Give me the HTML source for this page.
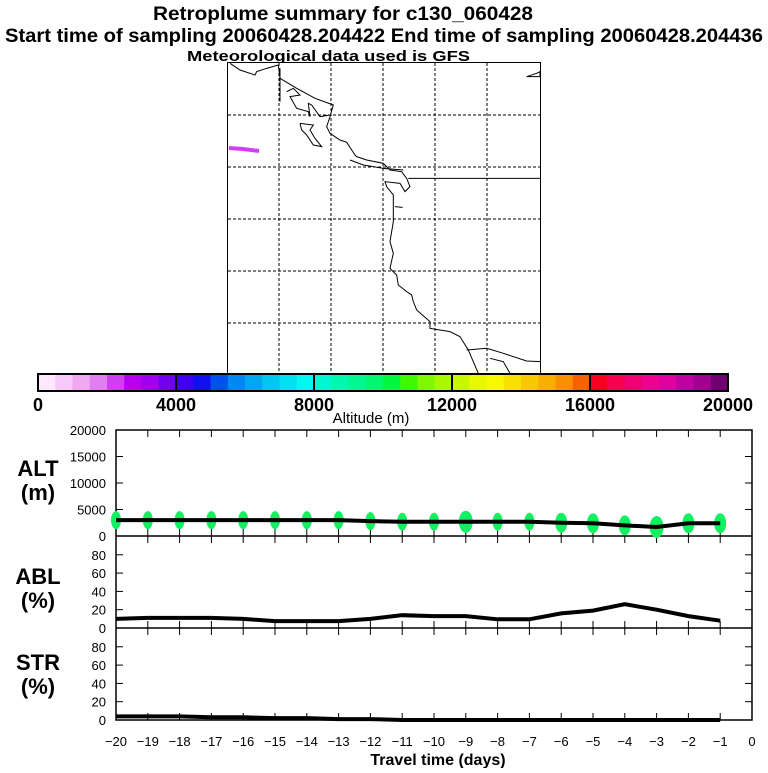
<!DOCTYPE html>
<html><head><meta charset="utf-8"><style>
body{margin:0;background:#fff;width:768px;height:768px;overflow:hidden}
svg text{font-family:"Liberation Sans",sans-serif}
</style></head><body>
<svg id="chart" width="768" height="768" xmlns="http://www.w3.org/2000/svg">
<g font-weight="bold" fill="#000">
<text x="153" y="20" font-size="19" textLength="380" lengthAdjust="spacingAndGlyphs">Retroplume summary for c130_060428</text>
<text x="5" y="42" font-size="19" textLength="758" lengthAdjust="spacingAndGlyphs">Start time of sampling 20060428.204422     End time of sampling 20060428.204436</text>
<text x="187" y="61" font-size="15" textLength="283" lengthAdjust="spacingAndGlyphs">Meteorological data used is GFS</text>
</g>
<g id="map">
<rect x="227.5" y="62.5" width="313" height="311" fill="#fff" stroke="#000"/>
<g stroke="#000" stroke-dasharray="3,2" stroke-width="1">
<line x1="279" y1="63" x2="279" y2="373"/><line x1="331" y1="63" x2="331" y2="373"/><line x1="383" y1="63" x2="383" y2="373"/><line x1="435" y1="63" x2="435" y2="373"/><line x1="487" y1="63" x2="487" y2="373"/>
<line x1="228" y1="115" x2="540" y2="115"/><line x1="228" y1="167" x2="540" y2="167"/><line x1="228" y1="219" x2="540" y2="219"/><line x1="228" y1="271" x2="540" y2="271"/><line x1="228" y1="323" x2="540" y2="323"/>
</g>
<g transform="translate(220,55) scale(0.3333)" fill="none" stroke="#000" stroke-width="3">
<polyline points="30,25 60,45 105,60 110,50 140,40 175,30 180,70 230,100 285,130 340,150 330,185 320,215 330,235 360,255 380,262 405,300 410,305 440,315 490,325 510,345 545,350 560,370 570,395 555,410 540,385 495,380 500,395 520,420 520,500 510,560 520,595 510,640 530,660 535,690 560,710 575,720 580,740 590,765 630,800 630,820 690,830 720,845 745,885 760,920 775,955"/>
<polyline points="180,40 180,140"/>
<polyline points="200,110 220,100 240,120 210,125 230,160 265,170 270,185 265,145 275,150 300,185 330,180"/>
<polyline points="240,205 280,210 270,225 285,250 305,275 280,270 260,240 245,225 240,205"/>
<polyline points="390,315 430,330 490,340 550,345"/>
<polyline points="565,370 960,370"/>
<polyline points="525,455 548,457"/>
<polyline points="740,885 800,880 850,895 920,918 960,920"/>
<polyline points="810,910 850,920 870,955"/>
<polyline points="920,65 950,55 960,50 960,65 920,65"/>
</g>
<polyline points="229,148 243,149 259,151" fill="none" stroke="#d040f0" stroke-width="4"/>
</g>
<g id="colorbar"></g>
<g id="plots"></g>
</svg>
<script>
const colors=["#fde8fd","#f8c8f8","#f0a8f0","#e080f0","#d040f0","#b800f0","#a000f0","#7000f0","#4000f0","#1010f0","#0050f0","#0088f0","#00a8f0","#00c8f0","#00e0f0","#00f8f0","#00f8d0","#00f8b0","#00f890","#00f870","#00f840","#40f800","#80f800","#a8f800","#c8f800","#e8f800","#f8f800","#f8e000","#f8c800","#f8b000","#f89000","#f86000","#f80020","#f80050","#f00070","#f00090","#e000a0","#c000a0","#a00090","#700070"];
const cbTicks=[0,4000,8000,12000,16000,20000];
const days=[-20,-19,-18,-17,-16,-15,-14,-13,-12,-11,-10,-9,-8,-7,-6,-5,-4,-3,-2,-1];
const altVals=[3000,3000,3000,3000,3000,3000,3000,3000,2800,2700,2700,2700,2700,2700,2500,2400,2000,1700,2400,2400];
const ablVals=[10,11,11,11,10,7.5,7.5,7.5,10,14,13,13,9.5,9.5,16,19,26,20,13,8];
const strVals=[4,4,4,3,3,2,2,1,1,0,0,0,0,0,0,0,0,0,0,0];
const blobSize=[5,5,5,5,5,5,5,5,5,5,5,7,5,5,6,6,6,7,6,6];
const xTicks=[-20,-19,-18,-17,-16,-15,-14,-13,-12,-11,-10,-9,-8,-7,-6,-5,-4,-3,-2,-1,0];
const altTicks=[0,5000,10000,15000,20000];
const pctTicks=[0,20,40,60,80];
const NS="http://www.w3.org/2000/svg";
function mk(t,a,p){const e=document.createElementNS(NS,t);for(const k in a)e.setAttribute(k,a[k]);(p||document.getElementById('plots')).appendChild(e);return e;}
const cb=document.getElementById('colorbar');
const cbx=v=>38+v/20000*690;
colors.forEach((c,i)=>{const r=mk('rect',{x:cbx(i*500),y:374,width:690/40+0.3,height:17,fill:c},cb);

});
mk('rect',{x:38,y:374,width:690,height:17,fill:'none',stroke:'#000','stroke-width':2},cb);
cbTicks.forEach(v=>{mk('line',{x1:cbx(v),y1:374,x2:cbx(v),y2:391,stroke:'#000','stroke-width':2},cb);
const t=mk('text',{x:cbx(v),y:411,'text-anchor':'middle','font-size':18,'font-weight':'bold'},cb);t.textContent=v;

});
const cbt=mk('text',{x:371,y:423,'text-anchor':'middle','font-size':15,'font-family':'Liberation Serif'},cb);cbt.textContent='Altitude (m)';


const X=d=>116+(d+20)/20*636;
const yAlt=v=>536-v/20000*106;
const yAbl=v=>628-v/100*91.5;
const yStr=v=>720-v/100*91.5;
mk('rect',{x:116,y:430,width:636,height:290,fill:'none',stroke:'#000','stroke-width':1.5});
mk('line',{x1:116,y1:536,x2:752,y2:536,stroke:'#000','stroke-width':1.5});
mk('line',{x1:116,y1:628,x2:752,y2:628,stroke:'#000','stroke-width':1.5});
[[430,536],[536,628],[628,720]].forEach(([t,b])=>xTicks.forEach(d=>{
mk('line',{x1:X(d),y1:t,x2:X(d),y2:t+7,stroke:'#000'});mk('line',{x1:X(d),y1:b,x2:X(d),y2:b-7,stroke:'#000'});}));
function yaxis(ticks,f){ticks.forEach(v=>{mk('line',{x1:116,y1:f(v),x2:123,y2:f(v),stroke:'#000'});mk('line',{x1:752,y1:f(v),x2:745,y2:f(v),stroke:'#000'});
const t=mk('text',{x:106,y:f(v)+5,'text-anchor':'end','font-size':13,'font-family':'Liberation Serif'});t.textContent=v;

});}
yaxis(altTicks,yAlt);yaxis(pctTicks,yAbl);yaxis(pctTicks,yStr);
xTicks.forEach(d=>{const t=mk('text',{x:X(d),y:746,'text-anchor':'middle','font-size':13,'font-family':'Liberation Serif'});t.textContent=d===0?'0':'\u2212'+(-d);

});
const xt=mk('text',{x:438,y:765,'text-anchor':'middle','font-size':16,'font-weight':'bold'});xt.textContent='Travel time (days)';


[['ALT','(m)',476],['ABL','(%)',584],['STR','(%)',670]].forEach(([a,b,y])=>{
const t1=mk('text',{x:38,y:y,'text-anchor':'middle','font-size':22,'font-weight':'bold'});t1.textContent=a;


const t2=mk('text',{x:38,y:y+24,'text-anchor':'middle','font-size':22,'font-weight':'bold'});t2.textContent=b;

});
days.forEach((d,i)=>{const e=mk('ellipse',{cx:X(d),cy:yAlt(altVals[i]),rx:blobSize[i],ry:blobSize[i]+4,fill:'#10f060'});

});
function line(vals,f,name){const p=mk('polyline',{points:days.map((d,i)=>X(d)+','+f(vals[i])).join(' '),fill:'none',stroke:'#000','stroke-width':4});

}
line(altVals,yAlt,'alt-line');line(ablVals,yAbl,'abl-line');line(strVals,yStr,'str-line');
</script>
</body></html>
